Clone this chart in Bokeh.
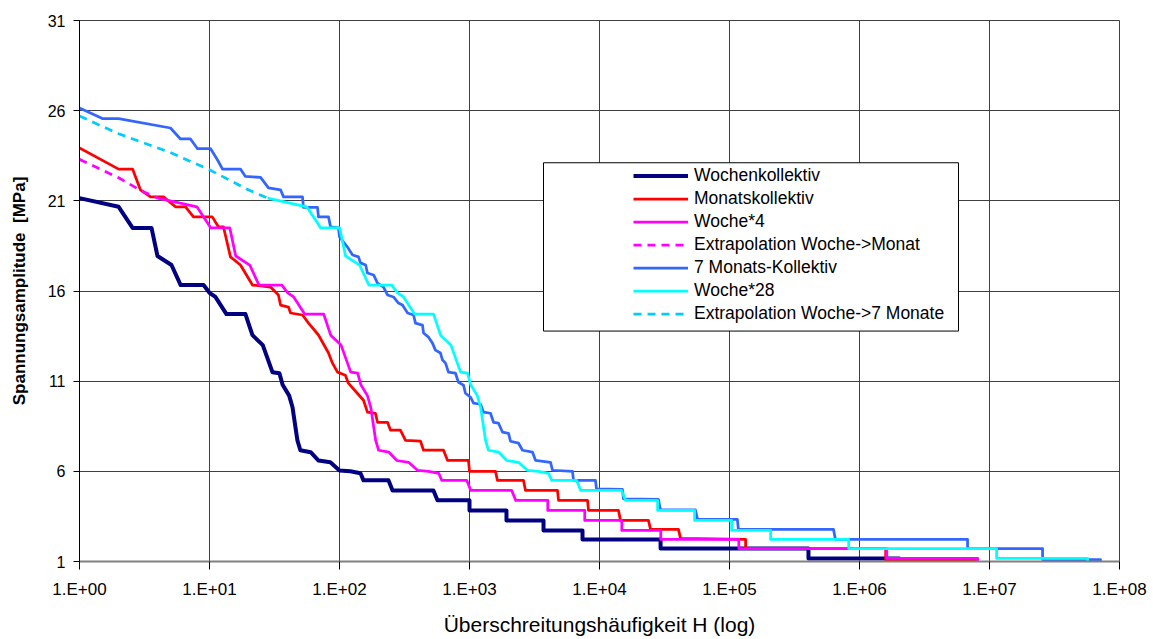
from bokeh.plotting import figure
from bokeh.models import (FixedTicker, CustomJSTickFormatter, Legend, LegendItem,
                          BoxAnnotation, Range1d)
from bokeh.embed import file_html
from bokeh.resources import INLINE

# ---------------- data ----------------
woche_h = [1, 2.0, 2.56, 3.58, 3.98, 5.1, 6.0, 9.0, 10.0, 11.1,
           13.5, 18.9, 20.4, 21.4, 25.7, 30.5, 34.5, 36.5, 41, 43.5,
           47.5, 50, 60, 69, 85, 100, 121, 145, 153, 238,
           256, 528, 567, 1000, 1000, 1925, 1925, 3710, 3710, 7400,
           7400, 29500, 29500, 405000, 405000, 2030000, 2030000]
woche_y = [21.15, 20.67, 19.5, 19.5, 17.94, 17.44, 16.33, 16.33, 15.9, 15.67,
           14.72, 14.72, 14.0, 13.55, 13.0, 11.5, 11.44, 10.8, 10.2, 9.55,
           7.7, 7.17, 7.06, 6.6, 6.5, 6.05, 6.0, 5.89, 5.5, 5.5,
           4.94, 4.94, 4.39, 4.39, 3.83, 3.83, 3.28, 3.28, 2.72, 2.72,
           2.22, 2.22, 1.72, 1.72, 1.17, 1.17, 1.0]

monat_h = [1, 2.0, 2.56, 2.94, 3.52, 4.43, 5.47, 6.54, 7.53, 10.5,
           11.7, 12.8, 14.5, 17.3, 21.4, 29.5, 33.9, 35.2, 40.5, 42.0,
           51.9, 57.8, 68.9, 82.3, 88.3, 96.5, 111, 117, 137, 153,
           164, 189, 196, 234, 247, 294, 322, 420, 443, 631,
           677, 982, 1000, 1585, 1641, 2600, 2697, 4750, 4840, 8090,
           8230, 14000, 14500, 23800, 24700, 40500, 42000, 133000, 133000, 1590000,
           1590000, 8230000]
monat_y = [23.93, 22.76, 22.76, 21.61, 21.22, 21.22, 20.67, 20.67, 20.11, 20.11,
           19.56, 19.56, 17.89, 17.44, 16.33, 16.22, 15.78, 15.22, 15.11, 14.78,
           14.67, 14.22, 13.56, 12.56, 12.0, 11.5, 11.33, 10.89, 10.33, 9.94,
           9.28, 9.22, 8.72, 8.72, 8.28, 8.28, 7.72, 7.67, 7.17, 7.17,
           6.61, 6.61, 6.0, 6.0, 5.5, 5.5, 4.94, 4.94, 4.39, 4.39,
           3.83, 3.83, 3.28, 3.28, 2.78, 2.78, 2.28, 2.22, 1.72, 1.72,
           1.06, 1.06]

woche4_h = [4, 8, 10.24, 14.32, 15.92, 20.4, 24, 36, 40, 44.4,
            54, 75.6, 81.6, 85.6, 102.8, 122, 138, 146, 164, 174,
            190, 200, 240, 276, 340, 400, 484, 580, 612, 952,
            1024, 2112, 2268, 4000, 4000, 7700, 7700, 14840, 14840, 29600,
            29600, 118000, 118000, 1620000, 1620000, 8120000, 8120000]
woche4_y = woche_y

extra_monat_h = [1, 2, 3, 4]
extra_monat_y = [23.3, 22.28, 21.55, 21.15]

monat7_h = [1, 1.5, 2.0, 5.01, 5.98, 7.14, 8.09, 10.2, 11.5, 12.6,
            17.3, 18.9, 24.7, 28.4, 35.2, 37.1, 51.9, 52.8, 67.7, 68.9,
            82.3, 85.3, 98.2, 100, 115, 126, 140, 145, 159, 164,
            183, 196, 218, 234, 260, 284, 305, 334, 371, 384,
            435, 443, 484, 519, 547, 598, 620, 654, 689, 780,
            822, 899, 931, 1018, 1074, 1216, 1282, 1451, 1530, 1672,
            1795, 1995, 2067, 2383, 2557, 3053, 3218, 4200, 4350, 6200,
            6310, 9310, 9480, 15000, 15300, 28400, 29400, 54700, 56800, 115000,
            117000, 631000, 653000, 6780000, 6780000, 25600000, 25600000, 71400000, 71400000]
monat7_y = [26.15, 25.56, 25.56, 25.04, 24.43, 24.43, 23.89, 23.89, 23.28, 22.76,
            22.76, 22.35, 22.3, 21.72, 21.61, 21.22, 21.22, 20.64, 20.64, 20.11,
            20.11, 19.56, 19.5, 19.0, 18.44, 18.0, 17.89, 17.56, 17.44, 17.0,
            16.89, 16.44, 16.22, 15.78, 15.67, 15.33, 15.22, 14.78, 14.67, 14.22,
            14.11, 13.67, 13.44, 13.11, 12.72, 12.56, 12.17, 12.0, 11.5, 11.44,
            10.94, 10.78, 10.33, 10.11, 9.78, 9.72, 9.28, 9.22, 8.72, 8.67,
            8.17, 8.11, 7.67, 7.56, 7.17, 7.06, 6.61, 6.5, 6.06, 6.0,
            5.5, 5.5, 5.03, 5.0, 4.47, 4.44, 3.86, 3.86, 3.33, 3.33,
            2.78, 2.78, 2.22, 2.22, 1.72, 1.72, 1.11, 1.11, 1.0]

woche28_h = [28, 56, 71.7, 100.2, 111.4, 142.8, 168, 252, 280, 310.8,
             378, 529.2, 571.2, 599.2, 719.6, 854, 966, 1022, 1148, 1218,
             1330, 1400, 1680, 1932, 2380, 2800, 3388, 4060, 4284, 6664,
             7168, 14784, 15876, 28000, 28000, 53900, 53900, 103880, 103880, 207200,
             207200, 826000, 826000, 11340000, 11340000, 56840000, 56840000]
woche28_y = woche_y

extra_7m_h = [1, 2, 5, 10, 20, 28]
extra_7m_y = [25.7, 24.72, 23.68, 22.72, 21.6, 21.15]

x_ticks = [1, 10, 100, 1000, 10000, 100000, 1000000, 10000000, 100000000]
y_ticks = [1, 6, 11, 16, 21, 26, 31]

series = [
    ("Wochenkollektiv", woche_h, woche_y, "#000080", 4, "solid"),
    ("Monatskollektiv", monat_h, monat_y, "#FF0000", 2.75, "solid"),
    ("Woche*4", woche4_h, woche4_y, "#FF00FF", 2.75, "solid"),
    ("Extrapolation Woche->Monat", extra_monat_h, extra_monat_y, "#FF00FF", 2.75, "8 6"),
    ("7 Monats-Kollektiv", monat7_h, monat7_y, "#3366FF", 2.75, "solid"),
    ("Woche*28", woche28_h, woche28_y, "#00FFFF", 2.75, "solid"),
    ("Extrapolation Woche->7 Monate", extra_7m_h, extra_7m_y, "#00CCFF", 2.75, "8 6"),
]

FONT = "Liberation Sans"

p = figure(width=1153, height=639, x_axis_type="log",
           x_range=Range1d(1, 1e8), y_range=Range1d(1, 31),
           output_backend="svg", toolbar_location=None,
           min_border_left=79, min_border_right=34,
           min_border_top=20, min_border_bottom=78,
           background_fill_color="white", border_fill_color="white")

p.xaxis.ticker = FixedTicker(ticks=x_ticks, minor_ticks=[])
p.xaxis.formatter = CustomJSTickFormatter(
    code="const e = Math.round(Math.log10(tick)); return '1.E+' + (e < 10 ? '0' : '') + e;")
p.yaxis.ticker = FixedTicker(ticks=y_ticks, minor_ticks=[])

p.grid.grid_line_color = "#404040"
p.grid.grid_line_width = 1
p.outline_line_color = "#404040"

p.xaxis.axis_line_color = "#808080"
p.xaxis.axis_line_width = 2
p.xaxis.major_tick_out = 8
p.xaxis.major_tick_in = 0
p.xaxis.major_tick_line_color = "black"
p.xaxis.minor_tick_line_color = None
p.xaxis.major_label_text_font = FONT
p.xaxis.major_label_text_font_size = "17px"
p.xaxis.major_label_text_color = "black"
p.xaxis.major_label_standoff = 10
p.xaxis.axis_label = "Überschreitungshäufigkeit H (log)"
p.xaxis.axis_label_text_font = FONT
p.xaxis.axis_label_text_font_size = "21px"
p.xaxis.axis_label_text_font_style = "normal"
p.xaxis.axis_label_text_color = "black"
p.xaxis.axis_label_standoff = 11

p.yaxis.axis_line_color = "black"
p.yaxis.axis_line_width = 1
p.yaxis.major_tick_out = 6
p.yaxis.major_tick_in = 0
p.yaxis.major_tick_line_color = "black"
p.yaxis.minor_tick_line_color = None
p.yaxis.major_label_text_font = FONT
p.yaxis.major_label_text_font_size = "16px"
p.yaxis.major_label_text_color = "black"
p.yaxis.major_label_standoff = 8
p.yaxis.axis_label = "Spannungsamplitude \u00a0[MPa]"
p.yaxis.axis_label_text_font = FONT
p.yaxis.axis_label_text_font_size = "17px"
p.yaxis.axis_label_text_font_style = "bold"
p.yaxis.axis_label_text_color = "black"
p.yaxis.axis_label_standoff = 16

items = []
for label, hs, ys, color, lw, dash in series:
    r = p.line(hs, ys, line_color=color, line_width=lw, line_dash=dash,
               line_join="round")
    items.append(LegendItem(label=label, renderers=[r]))

# legend frame (position in plot units)
box = BoxAnnotation(left=10 ** ((543 - 79) / 130), right=10 ** ((958 - 79) / 130),
                    top=1 + (561 - 163) / 18, bottom=1 + (561 - 331) / 18,
                    fill_color="white", fill_alpha=1.0,
                    line_color="black", line_width=1, line_alpha=1.0)
p.add_layout(box)

legend = Legend(items=items, location=(554, 236), padding=0, margin=0, spacing=0,
                glyph_width=55, glyph_height=23, label_height=23, label_standoff=6,
                label_text_font=FONT, label_text_font_size="17.5px",
                label_text_color="black",
                background_fill_alpha=0, border_line_color=None)
p.add_layout(legend)

open("out.html", "w").write(file_html(p, INLINE))
